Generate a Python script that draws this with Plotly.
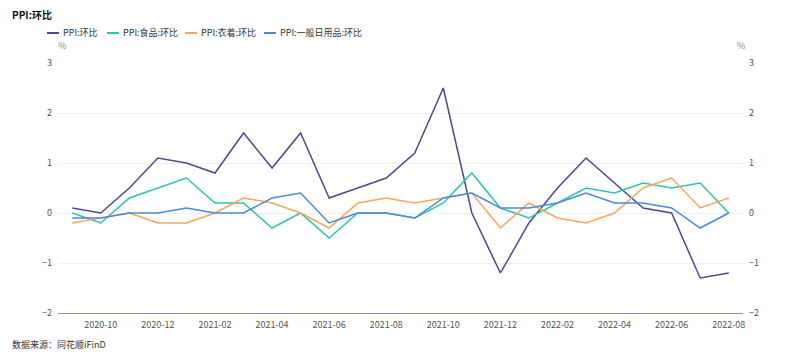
import plotly.graph_objects as go

months = ["2020-09","2020-10","2020-11","2020-12","2021-01","2021-02","2021-03","2021-04",
          "2021-05","2021-06","2021-07","2021-08","2021-09","2021-10","2021-11","2021-12",
          "2022-01","2022-02","2022-03","2022-04","2022-05","2022-06","2022-07","2022-08"]
ppi =      [0.1, 0.0, 0.5, 1.1, 1.0, 0.8, 1.6, 0.9, 1.6, 0.3, 0.5, 0.7, 1.2, 2.5, 0.0, -1.2,
            -0.2, 0.5, 1.1, 0.6, 0.1, 0.0, -1.3, -1.2]
food =     [0.0, -0.2, 0.3, 0.5, 0.7, 0.2, 0.2, -0.3, 0.0, -0.5, 0.0, 0.0, -0.1, 0.2, 0.8, 0.1,
            -0.1, 0.2, 0.5, 0.4, 0.6, 0.5, 0.6, 0.0]
clothing = [-0.2, -0.1, 0.0, -0.2, -0.2, 0.0, 0.3, 0.2, 0.0, -0.3, 0.2, 0.3, 0.2, 0.3, 0.4, -0.3,
            0.2, -0.1, -0.2, 0.0, 0.5, 0.7, 0.1, 0.3]
daily =    [-0.1, -0.1, 0.0, 0.0, 0.1, 0.0, 0.0, 0.3, 0.4, -0.2, 0.0, 0.0, -0.1, 0.3, 0.4, 0.1,
            0.1, 0.2, 0.4, 0.2, 0.2, 0.1, -0.3, 0.0]
names = ["PPI:环比", "PPI:食品:环比", "PPI:衣着:环比", "PPI:一般日用品:环比"]
colors = ["#4b4a8e", "#2fc4b2", "#f7a65c", "#4a8bd6"]
tick_labels = months[1::2]
y_ticks = [-2, -1, 0, 1, 2, 3]

font = "Noto Sans CJK SC"
W, H = 800, 360
OFF = 8  # page body margin offset
# target plot box in screen pixels: x 58..743, y 63..313
L, T = 58 - OFF, 63 - OFF
pw, ph = 685, 250
R, B = W - L - pw, H - T - ph

def px_x(x):
    return (x - OFF - L) / pw

def px_y(y):
    return (T + ph - (y - OFF)) / ph

fig = go.Figure()
for name, vals, c in zip(names, [ppi, food, clothing, daily], colors):
    fig.add_trace(go.Scatter(x=months, y=vals, name=name, mode="lines",
                             line=dict(color=c, width=1.5)))
# invisible trace to draw the mirrored right axis
fig.add_trace(go.Scatter(x=months, y=ppi, yaxis="y2", mode="lines", opacity=0,
                         showlegend=False, hoverinfo="skip"))

annotations = [
    dict(text="<b>PPI:环比</b>", x=px_x(10), y=px_y(14), xanchor="left",
         font=dict(size=10, color="#111")),
    dict(text="%", x=px_x(62), y=px_y(46), xanchor="center", font=dict(size=9, color="#888")),
    dict(text="%", x=px_x(741), y=px_y(46), xanchor="center", font=dict(size=9, color="#888")),
    dict(text="数据来源：同花顺iFinD", x=px_x(10), y=px_y(344), xanchor="left",
         font=dict(size=9, color="#333")),
]
shapes = []
# legend drawn at the reference's pixel positions
leg_x = [47, 107, 185, 264]
leg_y = 33
for name, c, lx in zip(names, colors, leg_x):
    shapes.append(dict(type="line", xref="paper", yref="paper",
                       x0=px_x(lx), x1=px_x(lx + 12), y0=px_y(leg_y), y1=px_y(leg_y),
                       line=dict(color=c, width=2)))
    annotations.append(dict(text=name, x=px_x(lx + 14), y=px_y(leg_y), xanchor="left",
                            font=dict(size=9, color="#333")))

fig.update_layout(
    width=W, height=H,
    margin=dict(l=L, r=R, t=T, b=B, autoexpand=False),
    paper_bgcolor="white", plot_bgcolor="white",
    font=dict(family=font, size=9, color="#666"),
    showlegend=False,
    xaxis=dict(type="category", range=[-0.5, 23.5], tickmode="array",
               tickvals=tick_labels, ticktext=tick_labels, showgrid=False,
               showline=True, linecolor="#8e93b8", linewidth=1, ticks="",
               ticklabelstandoff=3,
               tickfont=dict(size=9, color="#555"), zeroline=False),
    yaxis=dict(range=[-2, 3], tickvals=y_ticks, showgrid=True, gridcolor="#eef0f5",
               zeroline=False, showline=False, ticks="", ticklabelstandoff=5,
               tickfont=dict(size=9, color="#555")),
    yaxis2=dict(range=[-2, 3], tickvals=y_ticks, overlaying="y", side="right",
                showgrid=False, zeroline=False, showline=False, ticks="",
                ticklabelstandoff=5, tickfont=dict(size=9, color="#555")),
    annotations=annotations,
    shapes=shapes,
)
for a in fig.layout.annotations:
    a.xref = "paper"; a.yref = "paper"; a.yanchor = "middle"; a.showarrow = False
fig.write_html("out.html")
